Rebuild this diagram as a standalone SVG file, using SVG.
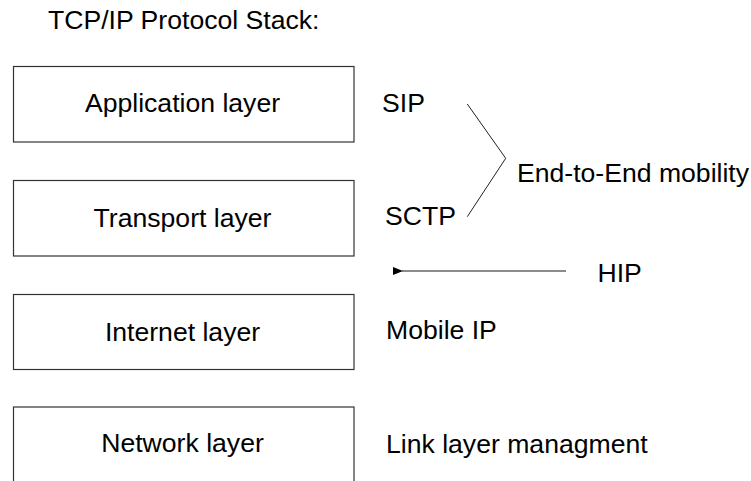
<svg xmlns="http://www.w3.org/2000/svg" width="751" height="481" viewBox="0 0 751 481">
<style>
  text { font-family: "Liberation Sans", Arial, sans-serif; font-size: 26.6px; fill: #000; }
  .box { fill: #fff; stroke: #333; stroke-width: 1.2; }
  .mid { text-anchor: middle; }
  .ln { stroke: #222; stroke-width: 1; fill: none; }
  .arr { stroke: #666; stroke-width: 1.6; fill: none; }
</style>
<defs>
  <marker id="ah" viewBox="0 0 10 8" refX="1" refY="4" markerWidth="10" markerHeight="8" markerUnits="userSpaceOnUse" orient="auto">
    <path d="M10,0 L0,4 L10,8 z" fill="#000"/>
  </marker>
</defs>
<rect width="751" height="481" fill="#fff"/>
<text id="title" x="48" y="28.5">TCP/IP Protocol Stack:</text>
<g id="app">
  <rect class="box" x="13.5" y="66.5" width="340.5" height="75.5"/>
  <text class="mid" x="182.5" y="112.3">Application layer</text>
</g>
<g id="transport">
  <rect class="box" x="13.5" y="180.5" width="340.5" height="75.5"/>
  <text class="mid" x="182.5" y="227">Transport layer</text>
</g>
<g id="internet">
  <rect class="box" x="13.5" y="294.5" width="340.5" height="75"/>
  <text class="mid" x="182.5" y="340.5">Internet layer</text>
</g>
<g id="network">
  <rect class="box" x="13.5" y="407" width="340.5" height="90"/>
  <text class="mid" x="182.5" y="452.3">Network layer</text>
</g>
<g id="sip"><text x="382" y="112.3">SIP</text></g>
<g id="sctp"><text x="385" y="225">SCTP</text></g>
<g id="e2e"><text x="517" y="181.5">End-to-End mobility</text></g>
<g id="hip"><text x="597.5" y="282.3">HIP</text></g>
<g id="mobileip"><text x="386" y="339.3">Mobile IP</text></g>
<g id="linkmgmt"><text x="386" y="453.3">Link layer managment</text></g>
<g id="connectors">
  <polyline class="ln" points="467.3,104 505.7,158.3 467.3,216.7"/>
  <line class="arr" x1="566" y1="271" x2="402" y2="271" marker-end="url(#ah)"/>
</g>
</svg>
